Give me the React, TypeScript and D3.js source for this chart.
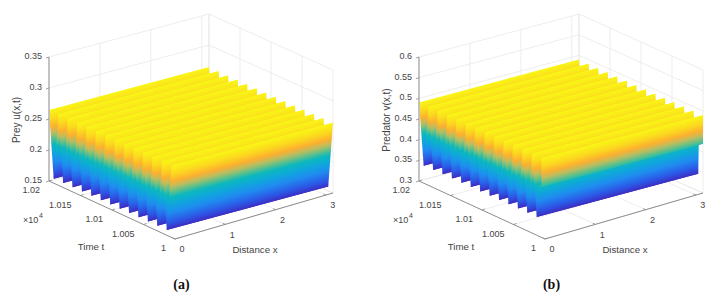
import React from "react";
import * as d3 from "d3";

// surface samples along t (x 10^4), the surface does not change along x
const preyKnots = [
  1.0, 1.00077, 1.00154, 1.00231, 1.00308, 1.00385, 1.00462, 1.00538, 1.00615,
  1.00692, 1.00769, 1.00846, 1.00923, 1.01, 1.01077, 1.01154, 1.01231, 1.01308,
  1.01385, 1.01462, 1.01538, 1.01615, 1.01692, 1.01769, 1.01846, 1.01923, 1.02,
];
const preyValues = [
  0.2645, 0.157, 0.2645, 0.157, 0.2645, 0.157, 0.2645, 0.157, 0.2645,
  0.157, 0.2645, 0.157, 0.2645, 0.157, 0.2645, 0.157, 0.2645, 0.157,
  0.2645, 0.157, 0.2645, 0.157, 0.2645, 0.157, 0.2645, 0.157, 0.2645,
];
// the first tooth of v has a small step in it
const predatorKnots = [
  1.0, 1.0, 1.00068, 1.00077, 1.00154, 1.00231, 1.00308, 1.00385, 1.00462, 1.00538, 1.00615,
  1.00692, 1.00769, 1.00846, 1.00923, 1.01, 1.01077, 1.01154, 1.01231, 1.01308,
  1.01385, 1.01462, 1.01538, 1.01615, 1.01692, 1.01769, 1.01846, 1.01923, 1.02,
];
const predatorValues = [
  0.49, 0.42, 0.418, 0.342, 0.49, 0.342, 0.49, 0.342, 0.49, 0.342, 0.49,
  0.342, 0.49, 0.342, 0.49, 0.342, 0.49, 0.342, 0.49, 0.342,
  0.49, 0.342, 0.49, 0.342, 0.49, 0.342, 0.49, 0.342, 0.49,
];

const xTicks = [0, 1, 2, 3];
const timeTicks = [1, 1.005, 1.01, 1.015, 1.02];
const timeTickLabels = ["1", "1.005", "1.01", "1.015", "1.02"];
const preyTicks = [0.15, 0.2, 0.25, 0.3, 0.35];
const preyTickLabels = ["0.15", "0.2", "0.25", "0.3", "0.35"];
const predatorTicks = [0.3, 0.35, 0.4, 0.45, 0.5, 0.55, 0.6];
const predatorTickLabels = ["0.3", "0.35", "0.4", "0.45", "0.5", "0.55", "0.6"];

const parulaStops = [0, 0.1, 0.26, 0.39, 0.5, 0.58, 0.66, 0.75, 0.86, 1];
const parulaColors = ["#3d2cc0", "#2c55e6", "#1f8cf0", "#0ea8da", "#0cb8bc", "#5cc08a", "#b8be62", "#fdb02f", "#fbd81f", "#f9f615"];

const font = "'Liberation Sans', Arial, sans-serif";
const textColor = "#454545";
const gridColor = "#e9e9e9";
const axisColor = "#8c8c8c";

const GRADIENT_STOPS = 24;
const XMAX = Math.PI;

// screen corners of the box: floor point and height of the z range
const boxCorners = {
  left: { x: 49, y: 181, h: 124 },
  front: { x: 175, y: 239, h: 124 },
  right: { x: 333, y: 193, h: 123 },
  back: { x: 209, y: 138, h: 124 },
};
// the surface sits on a true parallelogram, the front rulers stick out a little
const surfaceCorners = {
  ...boxCorners,
  front: { x: 171.5, y: 236.5, h: 124 },
};

function Panel({ id, dx, knots, values, zTicks, zLabels, zTitle, caption }: any) {
  const zMin = zTicks[0];
  const zMax = zTicks[zTicks.length - 1];
  const sx = d3.scaleLinear().domain([0, XMAX]).range([0, 1]);
  const st = d3.scaleLinear().domain([1, 1.02]).range([0, 1]);
  const sz = d3.scaleLinear().domain([zMin, zMax]).range([0, 1]);
  const [vMin, vMax] = d3.extent(values) as [number, number];
  const color = d3
    .scaleLinear<string>()
    .domain(parulaStops.map((s) => vMin + s * (vMax - vMin)))
    .range(parulaColors)
    .interpolate(d3.interpolateRgb);

  const projectWith = (c: any) => (x: number, t: number, z: number): [number, number] => {
    const u = sx(x);
    const v = st(t);
    const w = sz(z);
    const mix = (k: "x" | "y" | "h") =>
      (1 - u) * (1 - v) * c.front[k] + u * (1 - v) * c.right[k] + (1 - u) * v * c.left[k] + u * v * c.back[k];
    return [mix("x"), mix("y") - w * mix("h")];
  };
  const project = projectWith(boxCorners);
  const surf = projectWith(surfaceCorners);
  const line = d3.line();
  const seg = (a: [number, number], b: [number, number], stroke: string, w = 0.8) => (
    <line x1={a[0]} y1={a[1]} x2={b[0]} y2={b[1]} stroke={stroke} strokeWidth={w} />
  );

  // one polygon per face, far end of t first, coloured by a gradient across the ridge direction
  const gradients: any[] = [];
  const faces: any[] = [];
  for (let i = knots.length - 2; i >= 0; i--) {
    const t0 = knots[i];
    const t1 = knots[i + 1];
    const z0 = values[i];
    const z1 = values[i + 1];
    const a = surf(0, t0, z0);
    const b = surf(0, t1, z1);
    const c = surf(XMAX, t0, z0);
    const len = Math.hypot(c[0] - a[0], c[1] - a[1]);
    const nx = -(c[1] - a[1]) / len;
    const ny = (c[0] - a[0]) / len;
    const along = (b[0] - a[0]) * nx + (b[1] - a[1]) * ny;
    const gid = `${id}-face-${i}`;
    gradients.push(
      <linearGradient
        key={gid}
        id={gid}
        gradientUnits="userSpaceOnUse"
        x1={a[0]}
        y1={a[1]}
        x2={a[0] + nx * along}
        y2={a[1] + ny * along}
      >
        {d3.range(GRADIENT_STOPS + 1).map((s) => (
          <stop
            key={s}
            offset={s / GRADIENT_STOPS}
            stopColor={color(z0 + ((z1 - z0) * s) / GRADIENT_STOPS)}
          />
        ))}
      </linearGradient>
    );
    const d = line([a, c, surf(XMAX, t1, z1), b]) + "Z";
    faces.push(<path key={gid} d={d} fill={`url(#${gid})`} />);
  }

  return (
    <g transform={`translate(${dx},0)`}>
      <defs>{gradients}</defs>
      {/* back walls and floor grid */}
      {zTicks.map((z: number) => (
        <g key={z}>
          {seg(project(0, 1.02, z), project(XMAX, 1.02, z), gridColor)}
          {seg(project(XMAX, 1.02, z), project(XMAX, 1, z), gridColor)}
        </g>
      ))}
      {[...xTicks.slice(1), XMAX].map((x) => (
        <g key={x}>
          {seg(project(x, 1.02, zMin), project(x, 1.02, zMax), gridColor)}
          {seg(project(x, 1, zMin), project(x, 1.02, zMin), gridColor)}
        </g>
      ))}
      {timeTicks.map((t) => (
        <g key={t}>
          {seg(project(XMAX, t, zMin), project(XMAX, t, zMax), gridColor)}
          {seg(project(0, t, zMin), project(XMAX, t, zMin), gridColor)}
        </g>
      ))}

      {faces}

      {/* axes */}
      {seg(project(0, 1.02, zMin), project(0, 1.02, zMax), "#bdbdbd", 1.8)}
      {seg(project(0, 1.02, zMin), project(0, 1, zMin), axisColor, 1)}
      {seg(project(0, 1, zMin), project(XMAX, 1, zMin), axisColor, 1)}

      {zTicks.map((z: number, i: number) => {
        const p = project(0, 1.02, z);
        return (
          <g key={z}>
            {seg([p[0] - 3, p[1] + 1], p, axisColor, 0.8)}
            <text x={p[0] - 7} y={p[1] - 1} dy="0.35em" textAnchor="end" fontSize={9} fontFamily={font} fill={textColor}>
              {zLabels[i]}
            </text>
          </g>
        );
      })}
      {timeTicks.map((t, i) => {
        const p = project(0, t, zMin);
        return (
          <g key={t}>
            {seg(p, [p[0] + 3, p[1] - 1], axisColor, 0.8)}
            <text x={p[0] - 9} y={p[1] + 9} dy="0.35em" textAnchor="end" fontSize={9} fontFamily={font} fill={textColor}>
              {timeTickLabels[i]}
            </text>
          </g>
        );
      })}
      {xTicks.map((x) => {
        const p = project(x, 1, zMin);
        return (
          <g key={x}>
            {seg(p, [p[0] - 2.5, p[1] - 1.2], axisColor, 0.8)}
            <text x={p[0] + 7} y={p[1] + 10} dy="0.35em" textAnchor="middle" fontSize={9} fontFamily={font} fill={textColor}>
              {x}
            </text>
          </g>
        );
      })}

      <text x={255} y={250} dy="0.35em" textAnchor="middle" fontSize={9.7} fontFamily={font} fill={textColor}>
        Distance x
      </text>
      <text x={91} y={247} dy="0.35em" textAnchor="middle" fontSize={9.7} fontFamily={font} fill={textColor}>
        Time t
      </text>
      <text x={23} y={220} dy="0.35em" fontSize={9} fontFamily={font} fill={textColor}>
        ×10
      </text>
      <text x={39} y={216} dy="0.35em" fontSize={7} fontFamily={font} fill={textColor}>
        4
      </text>
      <text
        transform="translate(16,120) rotate(-90)"
        dy="0.35em"
        textAnchor="middle"
        fontSize={10}
        fontFamily={font}
        fill={textColor}
      >
        {zTitle}
      </text>
      <text
        x={181.5}
        y={284}
        dy="0.35em"
        textAnchor="middle"
        fontSize={14}
        fontWeight="bold"
        fontFamily="'Liberation Serif', serif"
        fill="#111"
      >
        {caption}
      </text>
    </g>
  );
}

export default function App() {
  return (
    <svg width={723} height={299} style={{ position: "absolute", left: 0, top: 0, background: "#fff" }}>
      <Panel
        id="prey"
        dx={0}
        knots={preyKnots}
        values={preyValues}
        zTicks={preyTicks}
        zLabels={preyTickLabels}
        zTitle="Prey u(x,t)"
        caption="(a)"
      />
      <Panel
        id="pred"
        dx={370}
        knots={predatorKnots}
        values={predatorValues}
        zTicks={predatorTicks}
        zLabels={predatorTickLabels}
        zTitle="Predator v(x,t)"
        caption="(b)"
      />
    </svg>
  );
}
